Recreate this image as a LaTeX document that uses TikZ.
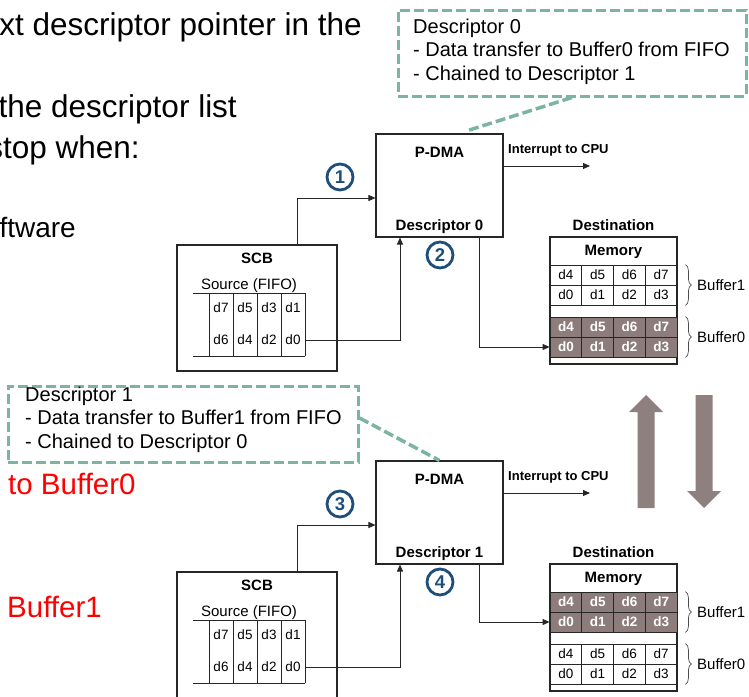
\documentclass[tikz,border=0pt]{standalone}
\usepackage{fontspec}
\setmainfont{Liberation Sans}
\usetikzlibrary{arrows.meta,decorations.pathreplacing}
\definecolor{callgreen}{RGB}{125,180,160}
\definecolor{cellgray}{RGB}{140,124,123}
\definecolor{arrowgray}{RGB}{143,128,128}
\definecolor{numblue}{RGB}{31,78,121}
\begin{document}
\begin{tikzpicture}[x=1pt, y=-1pt, >={Triangle[length=7pt,width=6pt]},
  box/.style={draw=black!85, line width=1.1pt, inner sep=0},
  link/.style={draw=black!85, line width=0.9pt},
  titletext/.style={inner sep=0, font=\fontsize{15}{18}\selectfont\bfseries},
  plaintext/.style={inner sep=0, font=\fontsize{15}{18}\selectfont},
  smalltext/.style={inner sep=0, font=\fontsize{13}{15}\selectfont\bfseries},
  fifocell/.style={inner sep=0, minimum width=24, font=\fontsize{13.5}{16}\selectfont},
  cell/.style={draw=black!85, line width=0.8pt, minimum width=31.75, minimum height=20, inner sep=0, font=\fontsize{13.5}{16}\selectfont},
  shadecell/.style={cell, fill=cellgray, text=white, font=\fontsize{13.5}{16}\selectfont\bfseries},
  bracestyle/.style={draw=black!70, line width=0.7pt, decorate, decoration={brace, amplitude=6pt}},
  numcircle/.style={circle, draw=numblue, line width=2.8pt, minimum size=26, inner sep=0, text=numblue, font=\fontsize{18.5}{20}\selectfont\bfseries},
  callout/.style={draw=callgreen, line width=3pt, dash pattern=on 10pt off 4pt},
  calllink/.style={draw=callgreen, line width=3.5pt, dash pattern=on 10pt off 4pt},
  calltext/.style={inner sep=0, align=left, font=\fontsize{20}{23.5}\selectfont},
  bigtext/.style={inner sep=0, font=\fontsize{31.5}{37}\selectfont},
  subtext/.style={inner sep=0, font=\fontsize{28}{33}\selectfont},
  redtext/.style={inner sep=0, text=red, font=\fontsize{29.5}{35}\selectfont}]
  \useasboundingbox (0,0) rectangle (749,696);
  \clip (0,0) rectangle (749,696);

  \node[bigtext, anchor=base east] (line1) at (362,35) {xt descriptor pointer in the};
  \node[bigtext, anchor=base east] (line2) at (237,117) {the descriptor list};
  \node[bigtext, anchor=base east] (line3) at (140,158) {stop when:};
  \node[subtext, anchor=base east] (line4) at (76,237) {ftware};
  \node[redtext, anchor=base west] (red1) at (8,494) {to Buffer0};
  \node[redtext, anchor=base west] (red2) at (7,617) {Buffer1};

  \foreach \h/\dy/\na/\nb/\tr in {0/0/1/2/3, 1/327/3/4/1} {
    \begin{scope}[yshift=-\dy]
      % P-DMA
      \node[box, minimum width=127, minimum height=103] (pdma\h) at (439.5,185.5) {};
      \node[titletext, anchor=base] at (439.5,157) {P-DMA};
      \node[titletext, anchor=base] at (439.5,230) {Descriptor \h};
      \node[numcircle] (num\na) at (340,177) {\na};
      \node[numcircle] (num\nb) at (440,255) {\nb};

      % SCB
      \node[box, minimum width=160, minimum height=126] (scb\h) at (257,308) {};
      \node[titletext, anchor=base] at (257,263) {SCB};
      \node[plaintext, anchor=base] at (249,289) {Source (FIFO)};
      \draw[link, line width=0.8pt] (193,293) -- (305,293) (193,356) -- (305,356);
      \foreach \x in {209,233,257,281,305}
        \draw[link, line width=0.8pt] (\x,293) -- (\x,356);
      \foreach \ta/\tb [count=\col from 0] in {7/6,5/4,3/2,1/0} {
        \node[fifocell] (fa\h-\col) at (221+24*\col,308) {d\ta};
        \node[fifocell] (fb\h-\col) at (221+24*\col,340) {d\tb};
      }

      % destination memory
      \node[titletext, anchor=base] at (613.5,230) {Destination};
      \node[box, minimum width=127, minimum height=127] (mem\h) at (613.5,300.5) {};
      \node[titletext, anchor=base] at (613.5,255) {Memory};
      \draw[link, line width=0.8pt] (550,265) -- (677,265);
      \foreach \y/\k/\bb [count=\row from 0] in {275/4/1, 295/0/1, 327/4/0, 347/0/0} {
        \ifnum\bb=\h \tikzset{thiscell/.style=shadecell}\else\tikzset{thiscell/.style=cell}\fi
        \foreach \col in {0,...,3} {
          \pgfmathtruncatemacro\val{\k+\col}
          \node[thiscell] (m\h-\row-\col) at (565.875+31.75*\col,\y) {d\val};
        }
      }
      \draw[bracestyle] ([xshift=8pt]m\h-0-3.north east) -- ([xshift=8pt]m\h-1-3.south east);
      \draw[bracestyle] ([xshift=8pt]m\h-2-3.north east) -- ([xshift=8pt]m\h-3-3.south east);
      \node[plaintext, anchor=west] (bufa\h) at (697,285) {Buffer1};
      \node[plaintext, anchor=west] (bufb\h) at (697,337) {Buffer0};

      \coordinate (cpu\h) at (590,166);
      \node[smalltext, anchor=base west] (irq\h) at (508,153) {Interrupt to CPU};

      \draw[link, ->] ([xshift=40pt]scb\h.north) |- ([yshift=-12.5pt]pdma\h.west);
      \draw[link, ->] (fb\h-3.east) -| ([xshift=-39.5pt]pdma\h.south);
      \draw[link, ->] ([xshift=39.5pt]pdma\h.south) |- (m\h-\tr-0.west);
      \draw[link, ->] ([yshift=19.5pt]pdma\h.east) -- (cpu\h);
    \end{scope}
  }

  \node[callout, minimum width=348, minimum height=86] (call0) at (572,53) {};
  \node[calltext, anchor=north west] (calltxt0) at (413,18.7) {Descriptor 0\\- Data transfer to Buffer0 from FIFO\\- Chained to Descriptor 1};
  \draw[calllink] (call0.south) -- ([xshift=28.5pt,yshift=3pt]pdma0.north);

  \node[callout, minimum width=350, minimum height=76] (call1) at (183,424) {};
  \node[calltext, anchor=north west] (calltxt1) at (25,386.7) {Descriptor 1\\- Data transfer to Buffer1 from FIFO\\- Chained to Descriptor 0};
  \draw[calllink] ([yshift=6pt]call1.east) -- (pdma1.north);

  \fill[arrowgray] (646,395) -- (663,412) -- (654.5,412) -- (654.5,508) -- (637.5,508) -- (637.5,412) -- (629,412) -- cycle;
  \fill[arrowgray] (704,508) -- (721,491) -- (712.5,491) -- (712.5,395) -- (695.5,395) -- (695.5,491) -- (687,491) -- cycle;
\end{tikzpicture}
\end{document}
